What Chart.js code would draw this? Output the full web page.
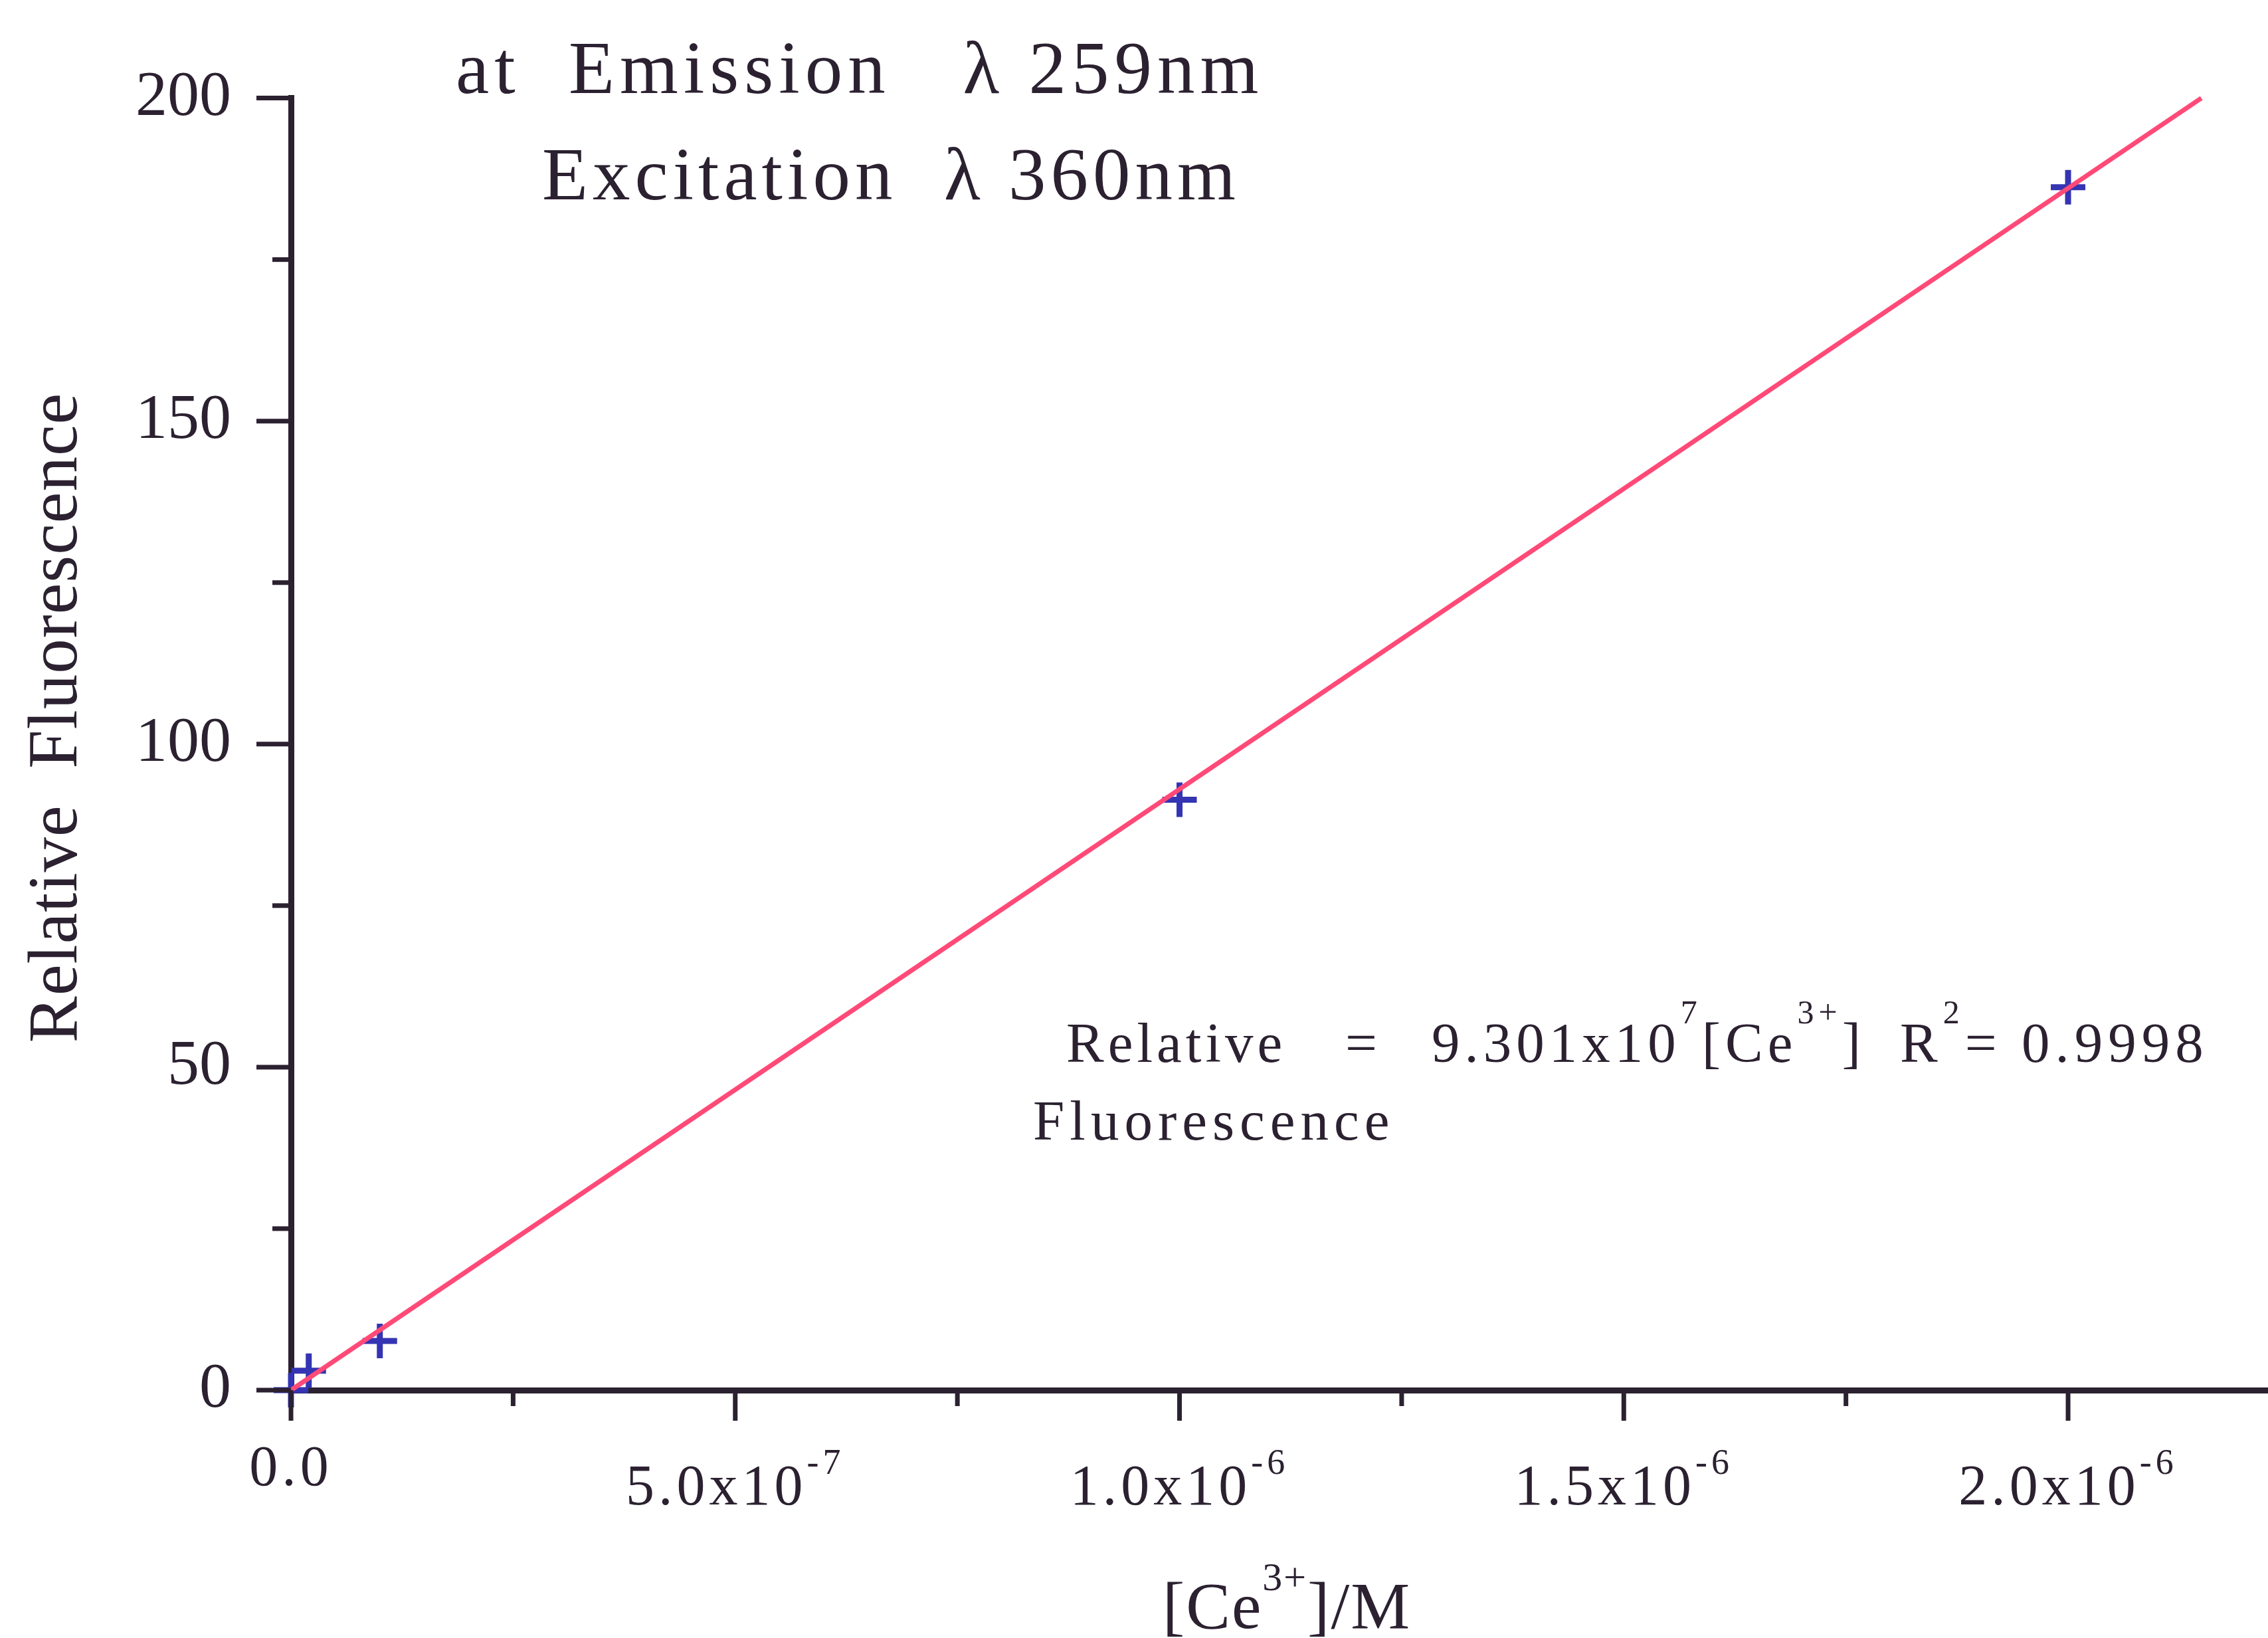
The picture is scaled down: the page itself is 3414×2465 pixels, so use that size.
<!DOCTYPE html>
<html>
<head>
<meta charset="utf-8">
<script src="https://cdn.jsdelivr.net/npm/chart.js@4.4.1/dist/chart.umd.min.js"></script>
<style>
  html, body { margin: 0; padding: 0; background: #fff; }
  #wrap { width: 3414px; height: 2465px; }
</style>
</head>
<body>
<div id="wrap"><canvas id="chart" width="3414" height="2465"></canvas></div>
<script>
// measured points
const concentration = [0, 2e-8, 1e-7, 1e-6, 2e-6];
const fluorescence = [0, 3.0, 7.6, 91.4, 186.2];
// fitted line end points (Relative Fluorescence = 9.301x10^7 [Ce3+])
const fitX = [0, 2.15e-6];
const fitY = [0, 200];
// axis ticks
const xMajorTicks = [0, 5e-7, 1e-6, 1.5e-6, 2e-6];
const xTickBase = ["0.0", "5.0x10", "1.0x10", "1.5x10", "2.0x10"];
const xTickExp = ["", "-7", "-6", "-6", "-6"];
const yTickLabels = [0, 50, 100, 150, 200];

const INK = "#2b2130";
const SERIF = '"Liberation Serif", "Times New Roman", serif';

function font(size) { return size + "px " + SERIF; }

// draw a row of text runs, some of them raised as superscripts
function drawRuns(ctx, x, y, runs, size, supSize, rise, spacing) {
    for (const r of runs) {
        ctx.font = font(r.sup ? supSize : size);
        ctx.letterSpacing = spacing + "px";
        ctx.fillText(r.t, x, r.sup ? y - rise : y);
        x += ctx.measureText(r.t).width;
    }
    return x;
}
function runsWidth(ctx, runs, size, supSize, spacing) {
    let w = 0;
    for (const r of runs) {
        ctx.font = font(r.sup ? supSize : size);
        ctx.letterSpacing = spacing + "px";
        w += ctx.measureText(r.t).width;
    }
    return w;
}

const decor = {
    id: "decor",
    afterDraw(chart) {
        const ctx = chart.ctx;
        const xs = chart.scales.x, ys = chart.scales.y;
        const area = chart.chartArea;
        ctx.save();
        ctx.strokeStyle = INK;
        ctx.fillStyle = INK;
        ctx.lineCap = "butt";

        // y tick marks (outward, minor every 25)
        ctx.lineWidth = 7;
        ys.ticks.forEach((t) => {
            const py = ys.getPixelForValue(t.value);
            const len = yTickLabels.includes(t.value) ? 52 : 28;
            ctx.beginPath();
            ctx.moveTo(area.left - len, py);
            ctx.lineTo(area.left, py);
            ctx.stroke();
        });
        // x tick marks (down, minor every 2.5e-7)
        xs.ticks.forEach((t) => {
            const k = t.value / 2.5e-7;
            if (Math.abs(k - Math.round(k)) > 1e-6) return;
            const px = xs.getPixelForValue(t.value);
            const len = Math.round(k) % 2 === 0 ? 46 : 24;
            ctx.beginPath();
            ctx.moveTo(px, area.bottom);
            ctx.lineTo(px, area.bottom + len);
            ctx.stroke();
        });

        // x tick labels with exponents
        ctx.textAlign = "left";
        ctx.textBaseline = "alphabetic";
        xMajorTicks.forEach((v, i) => {
            const runs = [{ t: xTickBase[i] }];
            if (xTickExp[i]) runs.push({ t: xTickExp[i], sup: true });
            const w = runsWidth(ctx, runs, 86, 54, 6);
            const px = xs.getPixelForValue(v);
            const base = xTickExp[i] ? 2264 : 2235;
            drawRuns(ctx, px - w / 2, base, runs, 86, 54, 46, 6);
        });

        // x axis title
        const xt = [{ t: "[Ce" }, { t: "3+", sup: true }, { t: "]/M" }];
        const xtw = runsWidth(ctx, xt, 100, 60, 2);
        drawRuns(ctx, 1937 - xtw / 2, 2450, xt, 100, 60, 57, 2);

        // y axis title
        ctx.save();
        ctx.translate(115, 1080);
        ctx.rotate(-Math.PI / 2);
        ctx.textAlign = "center";
        ctx.font = font(105);
        ctx.letterSpacing = "1px";
        ctx.fillText("Relative  Fluorescence", 0, 0);
        ctx.restore();

        // header
        ctx.textAlign = "left";
        ctx.font = font(113);
        ctx.letterSpacing = "8px";
        ctx.fillText("at  Emission   \u03bb 259nm", 686, 140);
        ctx.letterSpacing = "7px";
        ctx.fillText("Excitation  \u03bb 360nm", 816, 300);

        // regression equation
        drawRuns(ctx, 1605, 1598, [{ t: "Relative" }], 85, 50, 58, 6);
        drawRuns(ctx, 2025, 1598, [{ t: "=" }], 85, 50, 58, 6);
        drawRuns(ctx, 2155, 1598, [
            { t: "9.301x10" }, { t: "7", sup: true }, { t: "[Ce" },
            { t: "3+", sup: true }, { t: "]" }
        ], 85, 50, 58, 7);
        drawRuns(ctx, 2860, 1598, [
            { t: "R" }, { t: "2", sup: true }, { t: "= 0.9998" }
        ], 85, 50, 58, 8);
        drawRuns(ctx, 1555, 1715, [{ t: "Fluorescence" }], 85, 50, 58, 8);

        ctx.restore();
    }
};

new Chart(document.getElementById("chart"), {
    type: "scatter",
    data: {
        datasets: [
            {
                label: "fit",
                data: fitX.map((x, i) => ({ x: x, y: fitY[i] })),
                showLine: true,
                borderColor: "#ff4a78",
                borderWidth: 7,
                pointRadius: 0,
                clip: false
            },
            {
                label: "measured",
                data: concentration.map((x, i) => ({ x: x, y: fluorescence[i] })),
                showLine: false,
                pointStyle: "cross",
                pointRadius: 26,
                pointBorderWidth: 9,
                borderColor: "#3434b4",
                backgroundColor: "#3434b4",
                clip: false
            }
        ]
    },
    options: {
        responsive: false,
        animation: false,
        devicePixelRatio: 1,
        layout: { autoPadding: false, padding: { top: 134, right: 0, left: 0, bottom: 0 } },
        plugins: { legend: { display: false }, tooltip: { enabled: false } },
        scales: {
            x: {
                type: "linear",
                position: "bottom",
                min: 0,
                max: 2.225e-6,
                ticks: { stepSize: 2.5e-7, display: false },
                grid: { display: true, drawOnChartArea: false, drawTicks: false },
                border: { display: true, color: INK, width: 9 },
                afterFit: (s) => { s.height = 373; }
            },
            y: {
                type: "linear",
                min: 0,
                max: 200,
                ticks: {
                    stepSize: 25,
                    padding: 90,
                    color: INK,
                    font: { family: SERIF, size: 96 },
                    callback: (v) => (yTickLabels.includes(v) ? String(v) : "")
                },
                grid: { display: true, drawOnChartArea: false, drawTicks: false },
                border: { display: true, color: INK, width: 9 },
                afterFit: (s) => { s.width = 438; }
            }
        }
    },
    plugins: [decor]
});
</script>
</body>
</html>
